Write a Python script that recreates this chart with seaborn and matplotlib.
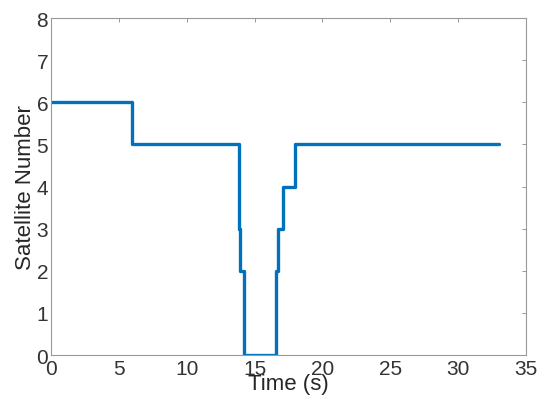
import matplotlib
matplotlib.use('Agg')
import matplotlib.pyplot as plt
import seaborn as sns
import pandas as pd

# step data
times = [0, 6.0, 13.85, 13.93, 14.2, 16.6, 16.7, 17.1, 18.0, 33.0]
sats = [6, 5, 3, 2, 0, 2, 3, 4, 5, 5]
x_ticks = [0, 5, 10, 15, 20, 25, 30, 35]
y_ticks = [0, 1, 2, 3, 4, 5, 6, 7, 8]

sns.set_style("white")
plt.rcParams['font.family'] = ['Liberation Sans', 'DejaVu Sans']

df = pd.DataFrame({'time': times, 'sat': sats})

fig = plt.figure(figsize=(5.5, 4.06), dpi=100)
ax = fig.add_axes([0.0927, 0.123, 0.8636, 0.830])
sns.lineplot(data=df, x='time', y='sat', drawstyle='steps-post',
             color='#0072BD', linewidth=2.4, ax=ax)

ax.set_xlim(0, 35)
ax.set_ylim(0, 8)
ax.set_xticks(x_ticks)
ax.set_yticks(y_ticks)
ax.tick_params(direction='in', length=3, width=0.6, color='#888888',
               labelsize=15, labelcolor='#333333', pad=2,
               top=True, right=True)
ax.tick_params(axis='x', pad=3)
for s in ax.spines.values():
    s.set_color('#999999')
    s.set_linewidth(0.8)
ax.set_xlabel('Time (s)', fontsize=16, labelpad=-4)
ax.set_ylabel('Satellite Number', fontsize=16, labelpad=0)

fig.savefig('out.png', dpi=100)
